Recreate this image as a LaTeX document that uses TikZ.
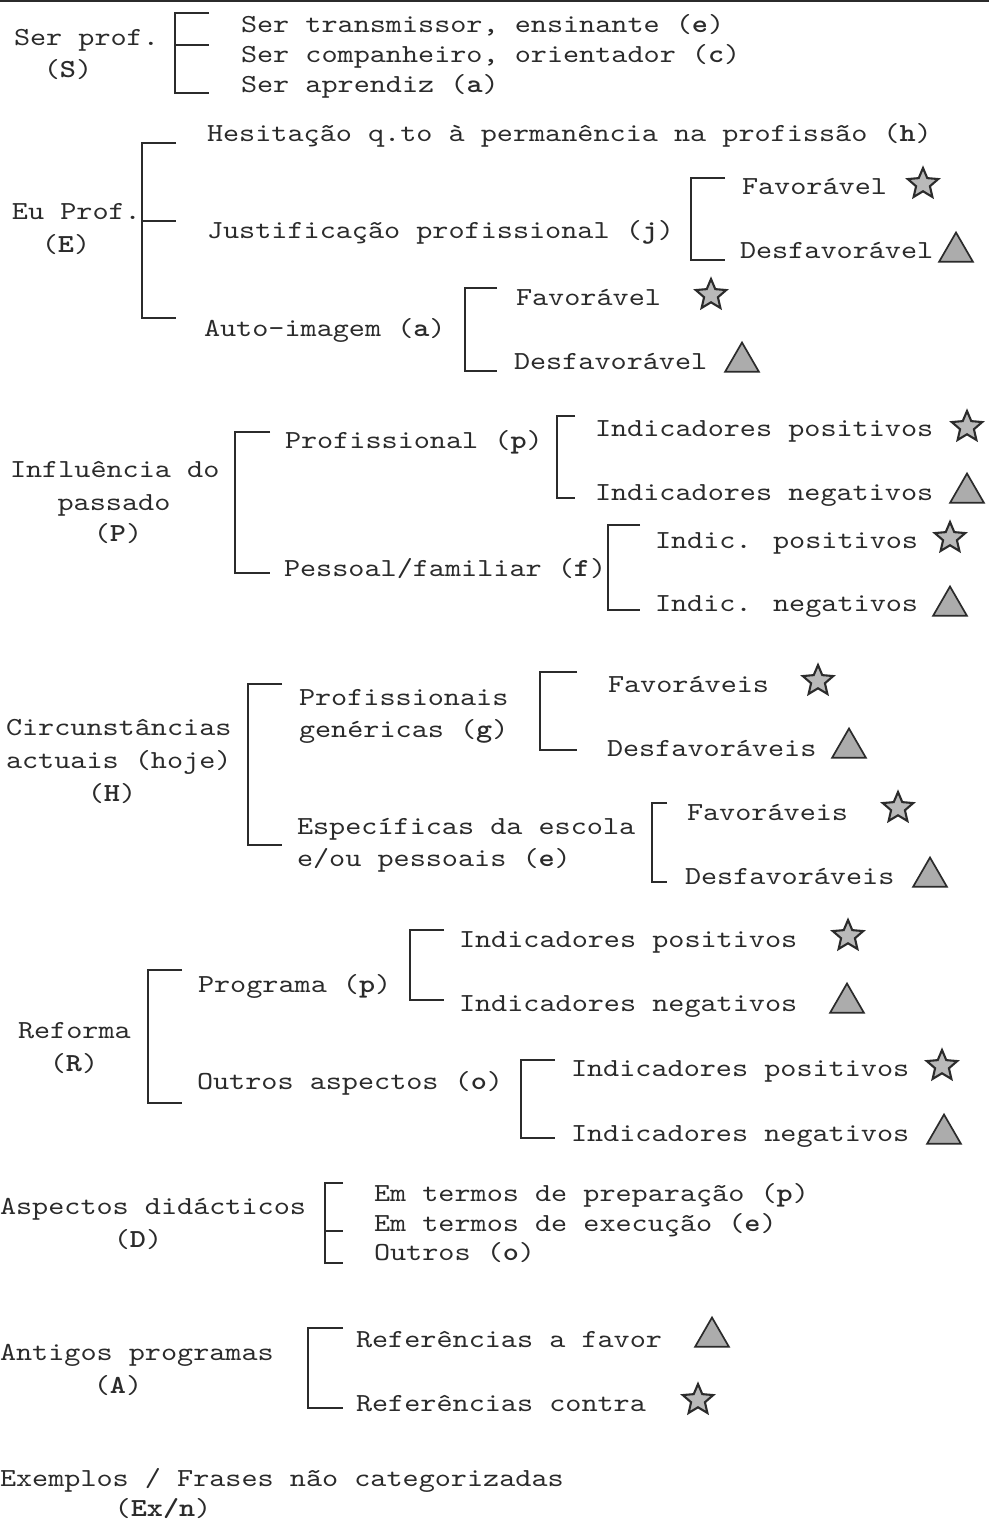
\documentclass[tikz,border=0pt]{standalone}
\usepackage{fontspec}
\setmainfont{lmmono10-regular.otf}[BoldFont=lmmonolt10-bold.otf, FakeStretch=1.18]
\usetikzlibrary{shapes.geometric}
\definecolor{ink}{HTML}{2B2B2B}

% square bracket joining a category to its sub-categories:
% #1 = x of the spine, #2 = top y, #3 = bottom y, #4 = x where the ticks end
\newcommand\fork[4]{\draw[brk] (#4,#2) -- (#1,#2) -- (#1,#3) -- (#4,#3);}
% extra tick on a spine: #1 = spine x, #2 = y, #3 = end x
\newcommand\forktick[3]{\draw[brk] (#1,#2) -- (#3,#2);}

\tikzset{
  lbl/.style={anchor=base west, inner sep=0pt, outer sep=0pt, text=ink,
              font=\fontsize{26}{30}\selectfont},
  mid/.style={lbl, anchor=base},
  brk/.style={draw=ink, line width=2.4pt, line cap=butt, line join=miter},
  starmark/.style={star, star points=5, star point ratio=2.2, minimum size=32pt,
              inner sep=0pt, draw=ink, line width=2.1pt, fill=gray!55},
  trimark/.style={regular polygon, regular polygon sides=3, minimum size=39pt,
              inner sep=0pt, draw=ink, line width=1.7pt, fill=gray!65},
}

\begin{document}
\begin{tikzpicture}[x=1pt, y=-1pt]
\useasboundingbox (0,0) rectangle (989,1523);
\fill[white] (0,0) rectangle (989,1523);
\draw[ink, line width=2.5pt] (0,1) -- (989,1);

% ---- Ser prof. (S)
\node[lbl] (S) at (14,45) {Ser prof.};
\node[mid] (Sc) at (68,77) {(\textbf{S})};
\node[lbl] (S1) at (241,32) {Ser transmissor, ensinante (\textbf{e})};
\node[lbl] (S2) at (241,62) {Ser companheiro, orientador (\textbf{c})};
\node[lbl] (S3) at (241,92) {Ser aprendiz (\textbf{a})};
\fork{175}{13}{93}{209}
\forktick{175}{45}{209}

% ---- Eu Prof. (E)
\node[lbl] (E) at (12,219) {Eu Prof.};
\node[mid] (Ec) at (66,252) {(\textbf{E})};
\node[lbl] (Eh) at (207,141) {Hesitação q.to à permanência na profissão (\textbf{h})};
\node[lbl] (Ej) at (207,238) {Justificação profissional (\textbf{j})};
\node[lbl] (Ea) at (204,336) {Auto-imagem (\textbf{a})};
\fork{142}{143}{318}{176}
\forktick{142}{221}{176}

\node[lbl] (Ej1) at (742,194) {Favorável};
\node[starmark] (Ej1s) at (923,184) {};
\node[lbl] (Ej2) at (740,258) {Desfavorável};
\node[trimark] (Ej2t) at (956,252) {};
\fork{691}{178}{260}{725}

\node[lbl] (Ea1) at (516,305) {Favorável};
\node[starmark] (Ea1s) at (711,295) {};
\node[lbl] (Ea2) at (514,369) {Desfavorável};
\node[trimark] (Ea2t) at (742,362) {};
\fork{465}{288}{371}{497}

% ---- Influência do passado (P)
\node[lbl] (P) at (10,477) {Influência do};
\node[mid] (P2) at (114,510) {passado};
\node[mid] (Pc) at (118,541) {(\textbf{P})};
\node[lbl] (Pp) at (285,448) {Profissional (\textbf{p})};
\node[lbl] (Pf) at (284,576) {Pessoal/familiar (\textbf{f})};
\fork{235}{432}{573}{270}

\node[lbl] (Pp1) at (595,436) {Indicadores positivos};
\node[starmark] (Pp1s) at (967,427) {};
\node[lbl] (Pp2) at (595,500) {Indicadores negativos};
\node[trimark] (Pp2t) at (967,493) {};
\fork{557}{416}{498}{575}

\node[lbl] (Pf1) at (655,548) {Indic. positivos};
\node[starmark] (Pf1s) at (950,538) {};
\node[lbl] (Pf2) at (655,611) {Indic. negativos};
\node[trimark] (Pf2t) at (950,606) {};
\fork{608}{525}{610}{640}

% ---- Circunstâncias actuais (H)
\node[lbl] (H) at (6,735) {Circunstâncias};
\node[lbl] (H2) at (6,768) {actuais (hoje)};
\node[mid] (Hc) at (112,801) {(\textbf{H})};
\node[lbl] (Hg) at (299,705) {Profissionais};
\node[lbl] (Hg2) at (299,737) {genéricas (\textbf{g})};
\node[lbl] (He) at (297,834) {Específicas da escola};
\node[lbl] (He2) at (297,866) {e/ou pessoais (\textbf{e})};
\fork{248}{684}{845}{282}

\node[lbl] (Hg1) at (608,692) {Favoráveis};
\node[starmark] (Hg1s) at (818,681) {};
\node[lbl] (Hg3) at (607,756) {Desfavoráveis};
\node[trimark] (Hg3t) at (849,748) {};
\fork{540}{672}{750}{577}

\node[lbl] (He1) at (687,820) {Favoráveis};
\node[starmark] (He1s) at (898,808) {};
\node[lbl] (He3) at (685,884) {Desfavoráveis};
\node[trimark] (He3t) at (930,877) {};
\fork{652}{803}{882}{667}

% ---- Reforma (R)
\node[lbl] (R) at (18,1038) {Reforma};
\node[mid] (Rc) at (74,1071) {(\textbf{R})};
\node[lbl] (Rp) at (198,992) {Programa (\textbf{p})};
\node[lbl] (Ro) at (197,1089) {Outros aspectos (\textbf{o})};
\fork{148}{970}{1103}{182}

\node[lbl] (Rp1) at (459,947) {Indicadores positivos};
\node[starmark] (Rp1s) at (848,936) {};
\node[lbl] (Rp2) at (459,1011) {Indicadores negativos};
\node[trimark] (Rp2t) at (847,1003) {};
\fork{410}{930}{1000}{444}

\node[lbl] (Ro1) at (571,1076) {Indicadores positivos};
\node[starmark] (Ro1s) at (942,1066) {};
\node[lbl] (Ro2) at (571,1141) {Indicadores negativos};
\node[trimark] (Ro2t) at (944,1134) {};
\fork{521}{1060}{1138}{555}

% ---- Aspectos didácticos (D)
\node[lbl] (D) at (0,1214) {Aspectos didácticos};
\node[mid] (Dc) at (138,1247) {(\textbf{D})};
\node[lbl] (D1) at (374,1201) {Em termos de preparação (\textbf{p})};
\node[lbl] (D2) at (374,1231) {Em termos de execução (\textbf{e})};
\node[lbl] (D3) at (374,1260) {Outros (\textbf{o})};
\fork{325}{1183}{1263}{343}
\forktick{325}{1231}{343}

% ---- Antigos programas (A)
\node[lbl] (A) at (0,1360) {Antigos programas};
\node[mid] (Ac) at (118,1393) {(\textbf{A})};
\node[lbl] (A1) at (356,1347) {Referências a favor};
\node[trimark] (A1t) at (712,1337) {};
\node[lbl] (A2) at (356,1411) {Referências contra};
\node[starmark] (A2s) at (698,1400) {};
\fork{308}{1328}{1408}{343}

% ---- Exemplos / Frases não categorizadas
\node[lbl] (X) at (0,1486) {Exemplos / Frases não categorizadas};
\node[mid] (Xc) at (163,1516) {(\textbf{Ex/n})};
\end{tikzpicture}
\end{document}
